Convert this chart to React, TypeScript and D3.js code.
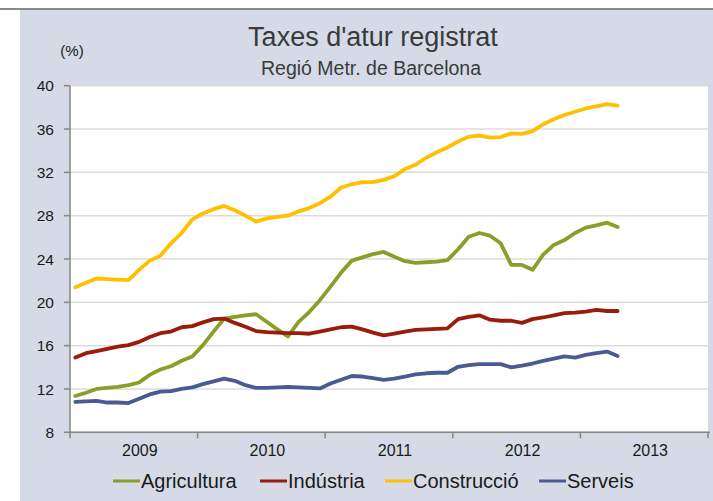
import React from "react";
import * as d3 from "d3";

const years = ["2009", "2010", "2011", "2012", "2013"];
const yTicks = [8, 12, 16, 20, 24, 28, 32, 36, 40];
const seriesNames = ["Agricultura", "Indústria", "Construcció", "Serveis"];
const seriesColors = ["#8a9f2a", "#9a1c0c", "#ffc000", "#4a5b94"];

// Monthly values, Jan 2009 .. Apr 2013
const agricultura = [
  11.35, 11.65, 12.0, 12.1, 12.2, 12.35, 12.6, 13.3, 13.8, 14.1, 14.6, 15.0,
  16.05, 17.3, 18.5, 18.65, 18.8, 18.9, 18.2, 17.5, 16.85, 18.2, 19.1, 20.2,
  21.45, 22.75, 23.85, 24.15, 24.45, 24.65, 24.2, 23.8, 23.65, 23.7, 23.75, 23.9,
  24.9, 26.05, 26.4, 26.15, 25.45, 23.45, 23.45, 23.0, 24.4, 25.3, 25.75, 26.4,
  26.9, 27.1, 27.35, 26.95,
];
const industria = [
  14.9, 15.3, 15.5, 15.7, 15.9, 16.05, 16.35, 16.8, 17.15, 17.3, 17.7, 17.8,
  18.15, 18.45, 18.5, 18.1, 17.75, 17.35, 17.25, 17.2, 17.15, 17.15, 17.1, 17.3,
  17.5, 17.7, 17.75, 17.5, 17.2, 16.95, 17.1, 17.3, 17.45, 17.5, 17.55, 17.6,
  18.45, 18.65, 18.8, 18.4, 18.3, 18.3, 18.1, 18.45, 18.6, 18.8, 19.0, 19.05,
  19.15, 19.3, 19.2, 19.2,
];
const construccio = [
  21.4, 21.8, 22.2, 22.15, 22.1, 22.05, 23.0, 23.85, 24.3, 25.45, 26.4, 27.65,
  28.2, 28.6, 28.9, 28.5, 28.0, 27.45, 27.75, 27.9, 28.0, 28.4, 28.7, 29.15,
  29.75, 30.6, 30.9, 31.1, 31.1, 31.3, 31.65, 32.3, 32.7, 33.35, 33.85, 34.3,
  34.85, 35.3, 35.4, 35.2, 35.25, 35.6, 35.55, 35.8, 36.45, 36.9, 37.3, 37.6,
  37.9, 38.1, 38.3, 38.15,
];
const serveis = [
  10.8, 10.85, 10.9, 10.75, 10.75, 10.7, 11.1, 11.5, 11.75, 11.8, 12.0, 12.15,
  12.45, 12.7, 12.95, 12.75, 12.35, 12.1, 12.1, 12.15, 12.2, 12.15, 12.1, 12.05,
  12.5, 12.85, 13.2, 13.15, 13.0, 12.85, 12.95, 13.15, 13.35, 13.45, 13.5, 13.5,
  14.05, 14.2, 14.3, 14.3, 14.3, 14.0, 14.15, 14.35, 14.6, 14.8, 15.0, 14.9,
  15.15, 15.3, 15.45, 15.05,
];
const seriesValues = [agricultura, industria, construccio, serveis];

const W = 713;
const H = 501;
const FONT = "'Liberation Sans', Arial, sans-serif";

export default function App() {
  const left = 70;
  const right = 708;
  const top = 85.7;
  const bottom = 432.3;
  const months = years.length * 12;

  const x = d3.scaleLinear().domain([0, months]).range([left, right]);
  const y = d3.scaleLinear().domain([8, 40]).range([bottom, top]);

  const line = d3
    .line<number>()
    .x((_, i) => x(i + 0.5))
    .y((d) => y(d));

  const legendX = [113, 260, 385, 539];
  const legendLen = 27;

  return (
    <svg
      width={W}
      height={H}
      style={{ position: "absolute", left: 0, top: 0 }}
      fontFamily={FONT}
    >
      <rect x={0} y={0} width={W} height={H} fill="#ffffff" />
      <rect x={20} y={9} width={W - 20} height={H - 9} fill="#d5dae6" />
      <line x1={0} x2={W} y1={9} y2={9} stroke="#8a8a8a" strokeWidth={2} />
      <rect x={left} y={top} width={right - left} height={bottom - top} fill="#ffffff" />

      {/* gridlines */}
      {yTicks.map((t) => (
        <line
          key={"g" + t}
          x1={left}
          x2={right}
          y1={y(t)}
          y2={y(t)}
          stroke="#dcdcdc"
          strokeWidth={1.5}
        />
      ))}

      {/* axes */}
      <line x1={left} x2={left} y1={top} y2={bottom} stroke="#868686" strokeWidth={1.5} />
      <line x1={left} x2={right + 2} y1={bottom} y2={bottom} stroke="#868686" strokeWidth={1.5} />
      {yTicks.map((t) => (
        <g key={"yt" + t}>
          <line x1={left - 6} x2={left} y1={y(t)} y2={y(t)} stroke="#868686" strokeWidth={1.5} />
          <text
            x={54}
            y={y(t)}
            dy="0.36em"
            textAnchor="end"
            fontSize={15.5}
            fill="#1a1a1a"
          >
            {t}
          </text>
        </g>
      ))}
      {d3.range(0, months + 1, 12).map((m) => (
        <line
          key={"xt" + m}
          x1={x(m)}
          x2={x(m)}
          y1={bottom}
          y2={bottom + 6}
          stroke="#868686"
          strokeWidth={1.5}
        />
      ))}
      {years.map((yr, i) => (
        <text
          key={yr}
          x={x(i * 12 + 6) + 6}
          y={456}
          textAnchor="middle"
          fontSize={16}
          fill="#1a1a1a"
        >
          {yr}
        </text>
      ))}

      {/* lines */}
      {seriesValues.map((vals, si) => (
        <path
          key={seriesNames[si]}
          d={line(vals) || ""}
          fill="none"
          stroke={seriesColors[si]}
          strokeWidth={3.8}
          strokeLinejoin="round"
          strokeLinecap="round"
        />
      ))}

      {/* titles */}
      <text x={373} y={46} textAnchor="middle" fontSize={27} fill="#3a3a3a">
        Taxes d'atur registrat
      </text>
      <text x={371} y={75} textAnchor="middle" fontSize={19.5} fill="#3a3a3a">
        Regió Metr. de Barcelona
      </text>
      <text x={72} y={56} textAnchor="middle" fontSize={15} fill="#1a1a1a">
        (%)
      </text>

      {/* legend */}
      {seriesNames.map((name, i) => (
        <g key={"lg" + name}>
          <line
            x1={legendX[i]}
            x2={legendX[i] + legendLen}
            y1={481}
            y2={481}
            stroke={seriesColors[i]}
            strokeWidth={3}
          />
          <text x={legendX[i] + legendLen + 1} y={488} fontSize={20} fill="#1a1a1a">
            {name}
          </text>
        </g>
      ))}
    </svg>
  );
}
